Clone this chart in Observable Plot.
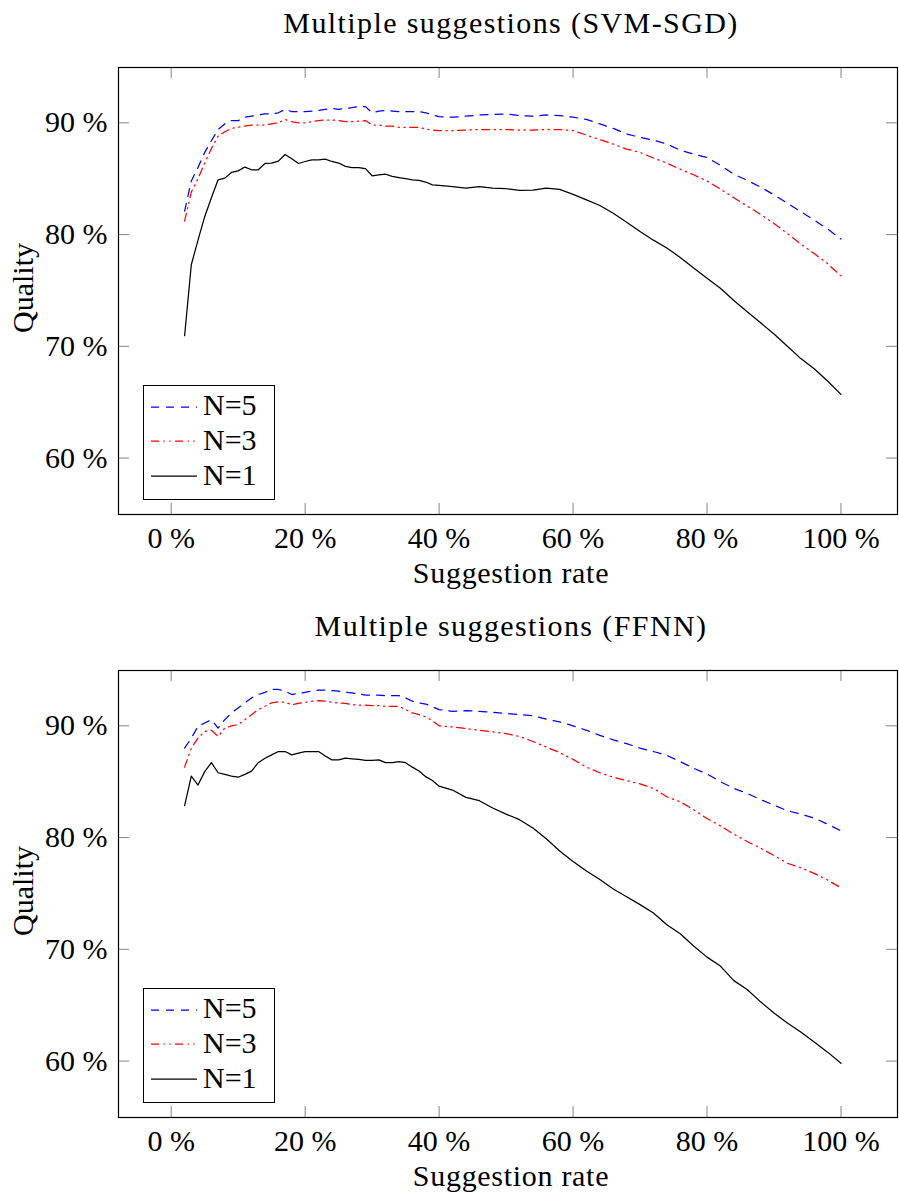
<!DOCTYPE html>
<html><head><meta charset="utf-8">
<script src="https://cdn.jsdelivr.net/npm/d3@7"></script>
<script src="https://cdn.jsdelivr.net/npm/@observablehq/plot@0.6"></script>
<style>
body{margin:0;background:#fff}
#root{position:relative;width:899px;height:1195px;overflow:hidden;font-family:"Liberation Serif","DejaVu Serif","Times New Roman",serif;color:#000;background:#fff}
.t{position:absolute;font-size:30px;line-height:30px;white-space:nowrap;text-align:center;font-family:"Liberation Serif","DejaVu Serif","Times New Roman",serif}
.plot{position:absolute;left:0}
.legend{position:absolute;border:1.2px solid #000;box-sizing:border-box;background:#fff}
</style></head><body><div id="root"></div>
<script>
// Suggestion rate (%) at which each quality value was read
const rates = [2,3,4,5,6,7,8,9,10,11,12,13,14,15,16,17,18,19,20,21,22,23,24,25,26,27,28,29,30,31,32,33,34,35,36,37,38,39,40,
  42,44,46,48,50,52,54,56,58,60,62,64,66,68,70,72,74,76,78,80,82,84,86,88,90,92,94,96,98,100];
const xTicks = [0,20,40,60,80,100];
const yTicks = [60,70,80,90];
const seriesNames = ["N=5","N=3","N=1"];
const titles = ["Multiple suggestions (SVM-SGD)","Multiple suggestions (FFNN)"];
const xLabel = "Suggestion rate";
const yLabel = "Quality";

// Panel 1: SVM-SGD
const svmN5 = [82.1,84.8,86.0,87.35,88.4,89.4,89.9,90.2,90.2,90.5,90.6,90.7,90.8,90.8,90.9,91.2,91.0,91.0,91.0,91.05,91.1,91.2,91.3,91.2,91.3,91.35,91.45,91.45,90.9,91.05,91.1,91.05,91.0,91.0,91.0,91.0,90.9,90.7,90.55,
  90.5,90.6,90.7,90.75,90.8,90.65,90.6,90.7,90.65,90.5,90.3,89.9,89.5,89.0,88.7,88.45,88.1,87.55,87.2,86.9,86.2,85.4,84.85,84.25,83.55,82.8,82.05,81.3,80.5,79.6];
const svmN3 = [81.2,83.8,85.0,86.4,87.7,88.8,89.2,89.5,89.6,89.7,89.8,89.8,89.8,89.9,90.0,90.3,90.1,90.0,90.0,90.1,90.2,90.25,90.25,90.2,90.1,90.1,90.15,90.2,89.8,89.8,89.7,89.7,89.6,89.6,89.6,89.6,89.45,89.35,89.3,
  89.3,89.35,89.4,89.4,89.4,89.35,89.35,89.4,89.4,89.3,88.9,88.5,88.1,87.65,87.35,86.85,86.4,85.85,85.35,84.8,84.07,83.3,82.55,81.8,81.0,80.1,79.15,78.3,77.4,76.3];
const svmN1 = [70.95,77.3,79.5,81.6,83.3,84.9,85.05,85.56,85.7,86.04,85.8,85.8,86.36,86.4,86.57,87.17,86.78,86.36,86.54,86.69,86.69,86.75,86.54,86.4,86.1,86.0,86.0,85.9,85.26,85.35,85.4,85.2,85.1,85.0,84.9,84.85,84.7,84.45,84.4,
  84.3,84.15,84.28,84.15,84.1,83.95,83.98,84.16,84.04,83.6,83.1,82.6,81.9,81.1,80.28,79.5,78.8,77.95,77.0,76.1,75.2,74.1,73.1,72.1,71.1,70.0,68.9,68.0,66.9,65.7];

// Panel 2: FFNN
const ffnnN5 = [88.0,88.9,89.95,90.25,90.55,89.8,90.55,91.15,91.6,92.05,92.5,92.8,93.0,93.25,93.25,93.1,92.8,92.9,93.0,93.1,93.2,93.2,93.15,93.1,93.0,92.95,92.85,92.75,92.75,92.75,92.7,92.7,92.7,92.5,92.2,92.05,91.95,91.7,91.45,
  91.3,91.35,91.3,91.2,91.1,91.0,90.9,90.6,90.35,90.0,89.6,89.15,88.75,88.4,88.0,87.7,87.35,86.8,86.2,85.7,85.0,84.4,83.95,83.4,82.9,82.4,82.1,81.75,81.2,80.6];
const ffnnN3 = [86.3,88.0,88.9,89.5,89.6,89.05,89.8,90.0,90.1,90.55,91.0,91.45,91.75,92.05,92.15,92.1,91.9,92.0,92.1,92.2,92.25,92.2,92.1,92.05,92.0,91.9,91.85,91.85,91.8,91.8,91.75,91.75,91.75,91.45,91.15,91.0,90.8,90.45,90.0,
  89.9,89.75,89.6,89.45,89.3,89.05,88.6,88.1,87.6,87.0,86.3,85.8,85.4,85.1,84.8,84.4,83.65,83.2,82.5,81.7,81.05,80.3,79.65,79.05,78.4,77.7,77.3,76.8,76.2,75.5];
const ffnnN1 = [82.85,85.5,84.7,85.9,86.7,85.8,85.65,85.5,85.4,85.65,85.95,86.7,87.1,87.4,87.7,87.7,87.4,87.55,87.7,87.7,87.7,87.3,86.95,86.95,87.1,87.05,87.0,86.9,86.9,86.95,86.7,86.7,86.8,86.7,86.3,85.95,85.45,85.1,84.6,
  84.25,83.6,83.3,82.65,82.1,81.6,80.85,79.9,78.8,77.85,77.0,76.25,75.4,74.7,74.0,73.25,72.2,71.4,70.3,69.3,68.5,67.2,66.4,65.3,64.3,63.4,62.6,61.7,60.8,59.8];

const lineStyles = [
  {stroke:"#0000ff", dash:"8,7"},
  {stroke:"#ff0000", dash:"8,4.5,1.3,4.5,1.3,4.5"},
  {stroke:"#000000", dash:null}
];

const FONT = "'Liberation Serif','DejaVu Serif','Times New Roman',serif";
const W = 899, H = 603, mL = 118, mR = 2, mT = 67, mB = 89;
const innerW = W - mL - mR, innerH = H - mT - mB;
const tickLen = 11;

function panel(series) {
  const lines = series.map((vals, s) => Plot.line(
    rates.map((r, i) => ({rate: r, q: vals[i]})),
    {x: "rate", y: "q", stroke: lineStyles[s].stroke, strokeWidth: 1.25,
     strokeDasharray: lineStyles[s].dash || undefined, curve: "linear"}
  ));
  return Plot.plot({
    width: W, height: H,
    marginLeft: mL, marginRight: mR, marginTop: mT, marginBottom: mB,
    x: {domain: [-7.87, 108.44]},
    y: {domain: [54.95, 94.95]},
    style: {fontFamily: FONT, fontSize: "30px", background: "transparent", color: "#000", overflow: "visible"},
    marks: [
      Plot.tickX(xTicks, {x: d => d, insetTop: innerH - tickLen, stroke: "#777", strokeWidth: 0.9}),
      Plot.tickX(xTicks, {x: d => d, insetBottom: innerH - tickLen, stroke: "#777", strokeWidth: 0.9}),
      Plot.tickY(yTicks, {y: d => d, insetRight: innerW - tickLen, stroke: "#777", strokeWidth: 0.9}),
      Plot.tickY(yTicks, {y: d => d, insetLeft: innerW - tickLen, stroke: "#777", strokeWidth: 0.9}),
      Plot.axisX({ticks: xTicks, anchor: "bottom", tickSize: 0, tickPadding: 12, tickFormat: d => `${d} %`, label: null, fontSize: 30, fontFamily: FONT}),
      Plot.axisY({ticks: yTicks, anchor: "left", tickSize: 0, tickPadding: 11, tickFormat: d => `${d} %`, label: null, fontSize: 30, fontFamily: FONT}),
      ...lines.reverse(),
      Plot.frame({stroke: "#000", strokeWidth: 1.2})
    ]
  });
}

const root = document.getElementById("root");
function addText(txt, left, top, width, extra) {
  const d = document.createElement("div");
  d.className = "t";
  d.textContent = txt;
  d.style.left = left + "px";
  d.style.top = top + "px";
  d.style.width = width + "px";
  if (extra) Object.assign(d.style, extra);
  root.appendChild(d);
  return d;
}

const panels = [[svmN5, svmN3, svmN1], [ffnnN5, ffnnN3, ffnnN1]];
panels.forEach((series, p) => {
  const oy = p * 603;
  const svg = panel(series);
  svg.classList.add("plot");
  svg.style.top = oy + "px";
  root.appendChild(svg);
  // title
  addText(titles[p], 111, oy + 7.9, 800, {letterSpacing: "1.4px"});
  // x label
  addText(xLabel, 311, oy + 557.5, 400, {letterSpacing: "0.7px"});
  // y label (rotated)
  addText(yLabel, 22.9 - 100, oy + 288.3 - 15, 200, {transform: "rotate(-90deg)", transformOrigin: "50% 50%"});
  // legend
  const lg = document.createElement("div");
  lg.className = "legend";
  Object.assign(lg.style, {left: "142.7px", top: (oy + 384.7) + "px", width: "132.5px", height: "115px"});
  root.appendChild(lg);
  const rowY = [406.7, 440.9, 476.3];
  const baseY = [415.3, 450, 485];
  seriesNames.forEach((name, s) => {
    const ns = "http://www.w3.org/2000/svg";
    const sv = document.createElementNS(ns, "svg");
    sv.setAttribute("width", 50); sv.setAttribute("height", 6);
    Object.assign(sv.style, {position: "absolute", left: "150px", top: (oy + rowY[s] - 3) + "px"});
    const ln = document.createElementNS(ns, "line");
    ln.setAttribute("x1", 1); ln.setAttribute("x2", 47); ln.setAttribute("y1", 3); ln.setAttribute("y2", 3);
    ln.setAttribute("stroke", lineStyles[s].stroke); ln.setAttribute("stroke-width", 1.25);
    if (lineStyles[s].dash) ln.setAttribute("stroke-dasharray", lineStyles[s].dash);
    sv.appendChild(ln);
    root.appendChild(sv);
    addText(name, 203, oy + baseY[s] - 25.1, 80, {textAlign: "left"});
  });
});
</script></body></html>
